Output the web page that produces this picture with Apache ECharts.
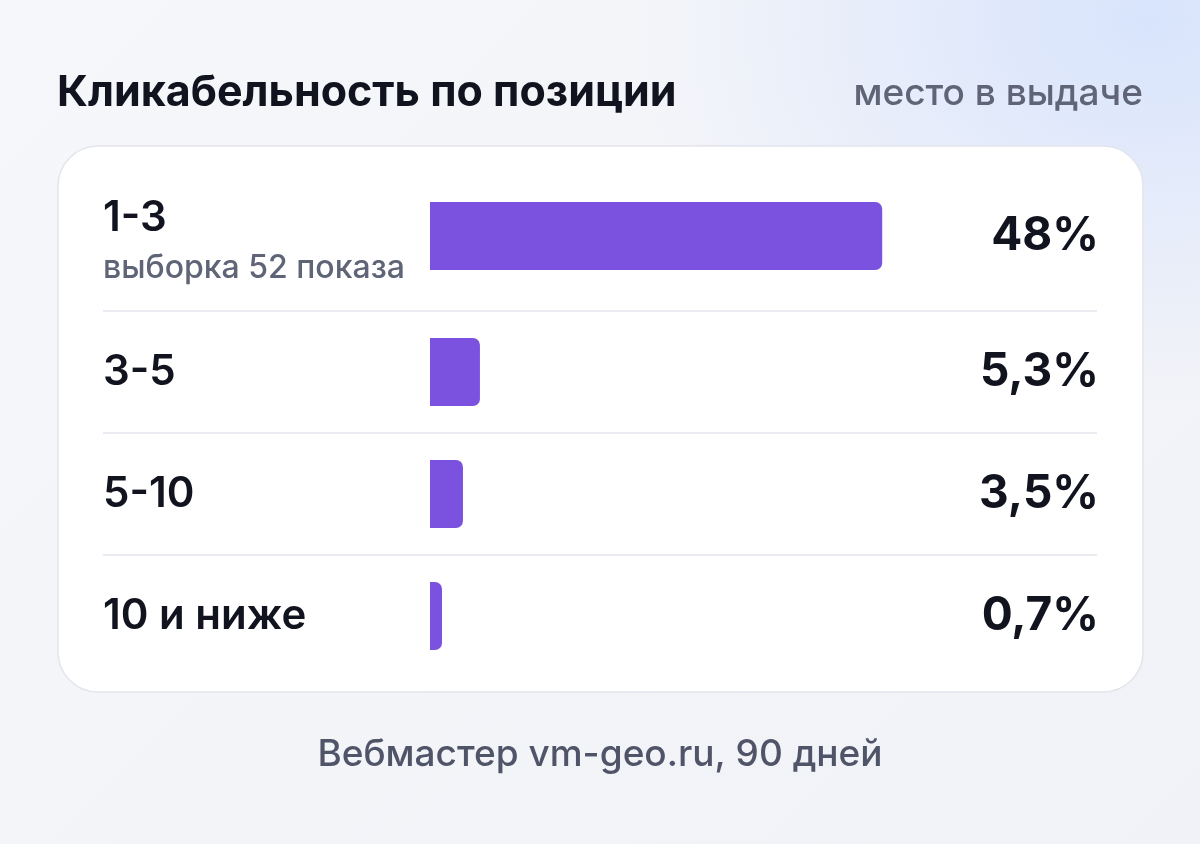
<!DOCTYPE html>
<html><head><meta charset="utf-8">
<script src="https://cdn.jsdelivr.net/npm/echarts@6/dist/echarts.min.js"></script>
<style>
html,body{margin:0;padding:0;width:1200px;height:844px;overflow:hidden;
background:radial-gradient(ellipse 520px 380px at 1150px 20px,#d8e4fc 0%,rgba(216,228,252,0) 100%),linear-gradient(135deg,#f6f7fa 0%,#f1f2f7 100%);}
#chart{width:1200px;height:844px;}
</style></head>
<body><div id="chart"></div>
<script>
var positions = ['1-3', '3-5', '5-10', '10 и ниже'];
var notes = ['выборка 52 показа', '', '', ''];
var ctr = [48, 5.3, 3.5, 0.7];
var ctrLabels = ['48%', '5,3%', '3,5%', '0,7%'];
var rowCenters = [236, 372, 494, 616];
var sepY = [311, 433, 555];

var font = 'Inter, "Noto Sans", sans-serif';
function txt(x, y, s, f, fill, align) {
  return {type:'text', x:x, y:y, style:{text:s, font:f, fill:fill, align:align || 'left', verticalAlign:'middle'}};
}
var grids = [], xAxes = [], yAxes = [], series = [];
var graphic = [
  {type:'rect', shape:{x:58, y:146, width:1085, height:546, r:40},
   style:{fill:'#fff', stroke:'#e3e5ec', lineWidth:1.5}, z:-1},
  txt(57, 93, 'Кликабельность по позиции', 'bold 43px ' + font, '#11131f'),
  txt(1143, 94, 'место в выдаче', '500 37px ' + font, '#5f6477', 'right'),
  txt(600, 755, 'Вебмастер vm-geo.ru, 90 дней', '500 37px ' + font, '#4f5468', 'center')
];
sepY.forEach(function(y) {
  graphic.push({type:'line', shape:{x1:103, y1:y, x2:1097, y2:y}, style:{stroke:'#e4e6ec', lineWidth:1.5}});
});
for (var i = 0; i < positions.length; i++) {
  grids.push({left:430, right:103, top:rowCenters[i] - 34, height:68});
  xAxes.push({gridIndex:i, type:'value', min:0, max:70.8, show:false});
  yAxes.push({gridIndex:i, type:'category', data:[positions[i]], show:false});
  series.push({type:'bar', xAxisIndex:i, yAxisIndex:i, data:[ctr[i]], barWidth:68, barMinHeight:12,
    itemStyle:{color:'#7b52e0', borderRadius:[0,7,7,0]}, silent:true});
  var hasNote = !!notes[i];
  graphic.push(txt(103, rowCenters[i] - (hasNote ? 18 : 0), positions[i], '600 42px ' + font, '#11131f'));
  if (hasNote) graphic.push(txt(103, rowCenters[i] + 32, notes[i], '500 32px ' + font, '#5f6477'));
  graphic.push(txt(1099, rowCenters[i], ctrLabels[i], 'bold 46px ' + font, '#11131f', 'right'));
}
var chart = echarts.init(document.getElementById('chart'));
chart.setOption({animation:false, grid:grids, xAxis:xAxes, yAxis:yAxes, series:series, graphic:graphic});
</script></body></html>
